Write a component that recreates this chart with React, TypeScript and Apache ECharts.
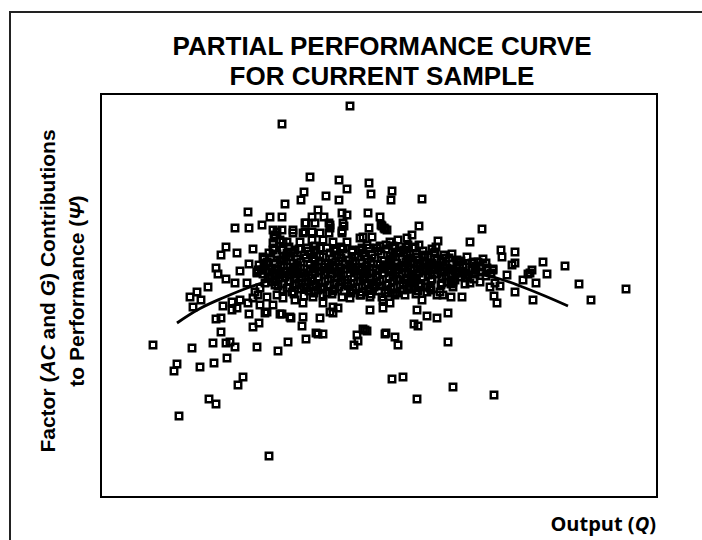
import React, { useEffect, useRef } from "react";
import * as echarts from "echarts";

// Scatter observations (Output Q, Factor contribution Psi), arbitrary units
const sparsePoints: number[][] = [
  [249,391],[181,373],[209,320],[238,317],[268,314],[246,308],[291,306],[203,305],[270,303],[225,301],
  [200,297],[238,297],[290,297],[321,298],[184,293],[147,285],[217,287],[241,284],[246,282],[267,284],
  [169,280],[181,280],[211,280],[223,280],[279,280],[161,272],[134,269],[148,269],[204,274],[229,272],
  [243,271],[268,269],[281,271],[284,268],[318,271],[172,267],[181,267],[192,264],[202,264],[211,265],
  [219,264],[228,264],[241,264],[262,260],[271,260],[289,255],[297,257],[306,259],[311,262],[173,259],
  [182,255],[125,250],[120,242],[136,244],[152,248],[162,240],[173,249],[314,250],[323,242],[115,229],
  [117,223],[139,226],[148,233],[156,225],[125,218],[134,214],[146,214],[107,210],[96,205],[89,200],
  [100,197],[92,190],[321,197],[326,205],[122,191],[131,187],[139,197],[147,194],[136,189],[115,178],
  [120,179],[120,165],[148,183],[158,174],[152,170],[164,184],[181,183],[190,179],[202,180],[201,171],
  [219,179],[229,185],[232,184],[217,163],[222,163],[205,158],[187,155],[177,146],[156,150],[134,150],
  [129,155],[125,154],[112,154],[91,149],[52,152],[76,133],[73,126],[99,130],[113,134],[126,139],
  [142,120],[137,112],[108,98],[115,93],[78,81],[168,41],[269,187],[249,199],[269,200],[282,189],
  [289,194],[262,168],[266,166],[256,162],[257,156],[253,152],[284,163],[294,160],[297,152],[291,118],
  [302,120],[316,98],[316,187],[326,181],[313,173],[317,171],[478,213],[525,208],[490,197],[432,197],
  [414,205],[435,214],[422,217],[396,194],[393,201],[361,200],[350,200],[342,202],[336,202],[336,179],
  [347,184],[347,155],[352,110],[393,102],[389,210],[369,214],[381,268],[369,255],[337,256],[335,250],
  [334,245],[348,239],[358,235],[362,232],[373,235],[382,238],[385,234],[400,247],[401,240],[414,245],
  [414,234],[411,232],[442,235],[464,231],[431,227],[429,224],[446,223],[406,222],[392,227],[346,215],
  [354,217],[379,215],[394,214],[362,224],[349,227],[339,230],[329,234],[319,232],[427,223],[307,252],
  [299,246],[386,227],[399,211],[366,222],[374,227],[342,231],[332,232],[326,227],[312,220],[306,217],
  [302,207],[314,209],[329,210],[339,205],[316,237],[336,237],[324,234],[307,237],
  [205,274],[214,274],[228,274],[242,274],[241,266],[280,272],[283,269],[286,267],[192,267],[204,265],
  [229,269],[259,259],[279,251],[285,252],[276,249],[294,249],[305,250],[232,255],[246,255],[222,257],
  [211,257],[199,255],[186,255],[234,247],[251,247],[261,249],[219,249],[206,249],[194,247],[182,247],
  [182,199],[194,197],[202,194],[212,200],[222,194],[232,190],[237,189],[259,202],[282,197],[294,202],
  [179,183],[189,180],[215,164],[264,167],[285,164],
  [176,265],[172,247],[157,227],[131,195],[157,202],[159,209],[156,224],[162,227],[166,234],[174,234],
  [181,237],[176,227],[169,220],[179,219],[164,214],[174,212],[154,205],[166,200],[176,202],[152,199],
  [159,192],[172,192],[166,185],[172,254],[179,257],[174,262],
];

// Dense central band of observations (estimated from the overlapping mass)
const densePoints: number[][] = [
  [181,247],[190,245],[198,248],[207,246],[215,247],[226,249],[233,246],[242,248],[251,245],[259,247],[268,249],[277,246],[285,248],[296,245],[303,247],[312,249],[322,246],[331,248],
  [176,243],[185,241],[193,244],[203,242],[210,243],[219,241],[229,244],[236,242],[245,243],[254,240],[262,244],[271,242],[280,243],[289,241],[297,244],[306,242],[315,243],[324,241],[333,244],[343,242],[351,243],
  [170,239],[179,237],[188,240],[196,238],[205,239],[214,236],[222,240],[231,238],[240,239],[248,237],[257,240],[266,238],[274,239],[283,236],[292,240],[301,238],[309,239],[318,237],[327,240],[336,238],[345,239],[356,237],[366,240],
  [166,235],[174,233],[183,236],[192,234],[200,235],[209,232],[218,236],[227,234],[235,235],[244,233],[252,236],[261,234],[270,235],[279,232],[288,236],[296,234],[305,235],[313,233],[322,236],[331,234],[340,235],[351,233],[360,236],[371,234],[377,235],
  [163,231],[171,229],[180,232],[189,230],[197,231],[206,228],[214,232],[223,230],[232,231],[240,229],[249,232],[258,230],[266,231],[275,228],[284,232],[293,230],[301,231],[310,229],[319,232],[328,230],[337,231],[346,229],[356,232],[365,230],[375,231],[386,229],
  [160,227],[168,225],[177,228],[186,226],[194,227],[203,224],[212,228],[220,226],[229,227],[238,225],[246,228],[255,226],[264,227],[272,224],[281,228],[290,226],[298,227],[307,225],[316,228],[325,226],[334,227],[343,225],[352,228],[362,226],[371,227],[381,225],[392,228],
  [162,223],[171,221],[179,224],[188,222],[197,223],[205,220],[214,224],[223,222],[231,223],[240,221],[249,224],[257,222],[266,223],[275,220],[283,224],[292,222],[301,223],[310,221],[318,224],[327,222],[336,223],[345,221],[355,224],[364,222],[374,223],[385,221],
  [167,219],[175,217],[184,220],[193,218],[201,219],[210,216],[218,220],[227,218],[236,219],[244,217],[253,220],[262,218],[270,219],[279,216],[288,220],[296,218],[305,219],[314,217],[322,220],[331,218],[341,219],[350,217],[360,220],[373,218],
  [172,215],[181,213],[189,216],[198,214],[207,215],[215,212],[224,216],[233,214],[241,215],[250,213],[259,216],[267,214],[276,215],[285,212],[293,216],[302,214],[311,215],[320,213],[330,216],[341,214],[352,215],[364,213],
  [177,211],[186,209],[195,212],[203,210],[212,211],[221,208],[229,212],[238,210],[247,211],[255,209],[264,212],[273,210],[281,211],[290,208],[299,212],[308,210],[318,211],[329,209],[340,212],[352,210],
  [182,207],[191,205],[200,208],[208,206],[217,207],[226,204],[234,208],[243,206],[252,207],[261,205],[269,208],[278,206],[287,207],[296,204],[306,208],[317,206],[330,207],
  [193,203],[203,201],[213,204],[222,202],[231,203],[241,200],[250,204],[260,202],[270,203],[281,200],[292,204],[304,202],[315,203],
  [186,244],[212,239],[238,236],[264,241],[290,238],[316,240],[342,236],[196,229],[224,233],[250,228],[276,233],[302,229],[328,233],[354,226],[379,230],
  [184,225],[210,219],[236,224],[262,220],[288,225],[314,219],[340,225],[366,219],[390,224],[194,213],[220,210],[246,214],[272,212],[298,217],[324,210],[350,213],
  [205,209],[232,206],[258,210],[284,204],[310,208],[188,250],[214,251],[240,250],[266,252],[292,251],[318,252],[168,244],[163,238],[158,232],
];

// Fitted partial performance curve
const curveQ = [76, 99, 124, 149, 174, 199, 229, 259, 289, 319, 349, 379, 399, 419, 444, 467];
const curvePsi = [174, 188.5, 200, 210, 218, 224, 228, 230.5, 231, 230, 227.5, 223, 218, 211, 201, 191];

const titleLines = ["PARTIAL PERFORMANCE CURVE", "FOR CURRENT SAMPLE"];

export default function App() {
  const ref = useRef<HTMLDivElement>(null);
  useEffect(() => {
    if (!ref.current) return;
    const chart = echarts.init(ref.current, null, { renderer: "svg" });
    const font = "'Liberation Sans', Arial, sans-serif";
    const points = sparsePoints.concat(densePoints);
    const richY = {
      n: { fontFamily: font, fontWeight: "bold", fontSize: 21, fill: "#000" },
      i: { fontFamily: font, fontWeight: "bold", fontStyle: "italic", fontSize: 21, fill: "#000" },
    };
    chart.setOption({
      animation: false,
      backgroundColor: "#fff",
      grid: {
        left: 101, top: 94, width: 556, height: 403,
        show: true, borderColor: "#000", borderWidth: 2, backgroundColor: "transparent",
      },
      xAxis: {
        type: "value", min: 0, max: 556,
        axisLine: { show: false }, axisTick: { show: false }, axisLabel: { show: false }, splitLine: { show: false },
      },
      yAxis: {
        type: "value", min: 0, max: 403,
        axisLine: { show: false }, axisTick: { show: false }, axisLabel: { show: false }, splitLine: { show: false },
      },
      series: [
        {
          type: "scatter",
          data: points,
          symbol: "rect",
          symbolSize: 6.5,
          itemStyle: { color: "rgba(0,0,0,0)", borderColor: "#000", borderWidth: 2.4, opacity: 1 },
          z: 2,
        },
        {
          type: "line",
          data: curveQ.map((q, i) => [q, curvePsi[i]]),
          smooth: 0.4,
          showSymbol: false,
          symbol: "none",
          lineStyle: { color: "#000", width: 2.8 },
          z: 3,
        },
      ],
      graphic: [
        {
          type: "rect",
          shape: { x: 10, y: 12, width: 760, height: 600 },
          style: { fill: "none", stroke: "#222", lineWidth: 2 },
          silent: true,
        },
        {
          type: "text", x: 382, y: 46,
          style: { text: titleLines[0], font: `bold 26px ${font}`, fill: "#000", textAlign: "center", textVerticalAlign: "middle" },
        },
        {
          type: "text", x: 382, y: 76,
          style: { text: titleLines[1], font: `bold 26px ${font}`, fill: "#000", textAlign: "center", textVerticalAlign: "middle" },
        },
        {
          type: "text", x: 47, y: 291, rotation: Math.PI / 2,
          style: {
            text: "{n|Factor (}{i|AC}{n| and }{i|G}{n|) Contributions}",
            textAlign: "center", textVerticalAlign: "middle",
            rich: richY,
          },
        },
        {
          type: "text", x: 76, y: 291, rotation: Math.PI / 2,
          style: {
            text: "{n|to Performance (}{i|Ψ}{n|)}",
            textAlign: "center", textVerticalAlign: "middle",
            rich: richY,
          },
        },
        {
          type: "text", x: 656, y: 523,
          style: {
            text: "{n|Output (}{i|Q}{n|)}",
            textAlign: "right", textVerticalAlign: "middle",
            rich: {
              n: { fontFamily: "'Open Sans', sans-serif", fontWeight: "bold", fontSize: 20, fill: "#000" },
              i: { fontFamily: "'Open Sans', sans-serif", fontWeight: "bold", fontStyle: "italic", fontSize: 20, fill: "#000" },
            },
          },
        },
      ],
    });
    return () => chart.dispose();
  }, []);
  return (
    <div
      ref={ref}
      style={{ position: "fixed", left: 0, top: 0, width: 702, height: 540, background: "#fff" }}
    />
  );
}
